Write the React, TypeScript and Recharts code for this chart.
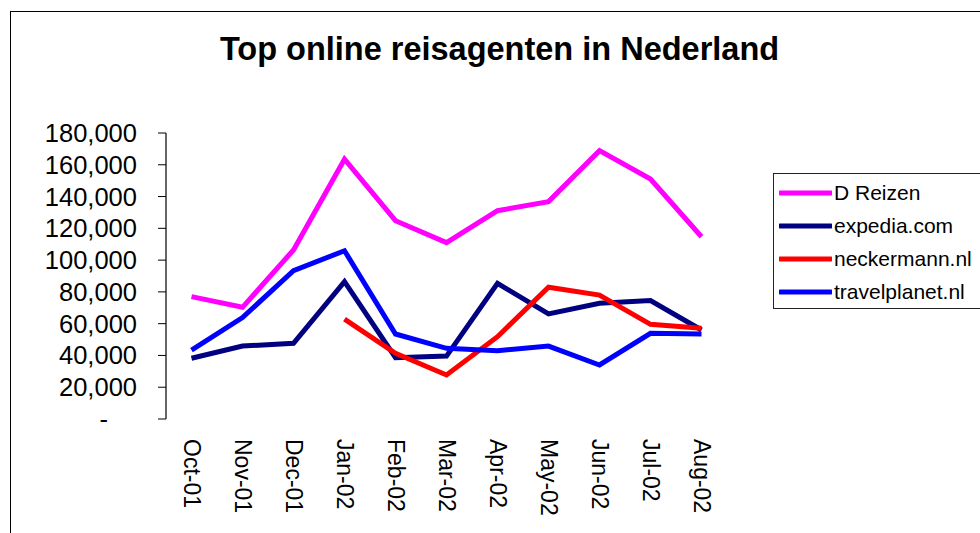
import React from 'react';
import { LineChart, Line, XAxis, YAxis, Legend } from 'recharts';

const months = ['Oct-01', 'Nov-01', 'Dec-01', 'Jan-02', 'Feb-02', 'Mar-02', 'Apr-02', 'May-02', 'Jun-02', 'Jul-02', 'Aug-02'];
const dReizen = [77000, 70300, 106400, 163500, 124800, 111000, 131100, 136800, 168900, 151000, 114700];
const expedia = [38200, 45900, 47600, 86400, 38600, 39600, 85400, 66100, 72800, 74500, 56000];
const neckermann: (number | null)[] = [null, null, null, 62900, 41300, 27700, 51800, 82900, 78000, 59600, 57100];
const travelplanet = [43400, 63800, 93400, 105900, 53500, 44500, 43000, 45900, 34000, 53900, 53500];
const yTicks = [0, 20000, 40000, 60000, 80000, 100000, 120000, 140000, 160000, 180000];

const seriesNames = ['D Reizen', 'expedia.com', 'neckermann.nl', 'travelplanet.nl'];
const seriesColors = ['#FF00FF', '#000080', '#FF0000', '#0000FF'];

const data = months.map((m, i) => ({
  i,
  month: m,
  d: dReizen[i],
  e: expedia[i],
  n: neckermann[i],
  t: travelplanet[i],
}));

const centerTicks = months.map((_, i) => i);
const edgeTicks = [...months.map((_, i) => i - 0.5), months.length - 0.5];

const FONT = '"Liberation Sans", Arial, sans-serif';

const MonthTick = (props: any) => {
  const { x, y, payload } = props;
  const label = months[payload.value];
  return (
    <text
      x={x}
      y={y}
      transform={`rotate(90 ${x} ${y})`}
      textAnchor="start"
      dominantBaseline="central"
      fontFamily={FONT}
      fontSize={23}
      fill="#000"
    >
      {label}
    </text>
  );
};

const ValueTick = (props: any) => {
  const { x, y, payload } = props;
  const v = payload.value as number;
  const label = v === 0 ? '-' : v.toLocaleString('en-US');
  return (
    <text
      x={v === 0 ? x - 29 : x}
      y={y}
      textAnchor="end"
      dominantBaseline="central"
      fontFamily={FONT}
      fontSize={25.5}
      fill="#000"
    >
      {label}
    </text>
  );
};

const LegendBox = (props: any) => {
  const payload = props.payload || [];
  return (
    <div
      style={{
        border: '1px solid #222',
        width: 240,
        height: 132,
        paddingTop: 2,
        paddingLeft: 5,
        boxSizing: 'content-box',
        background: '#fff',
      }}
    >
      {payload.map((p: any) => (
        <div key={p.value} style={{ height: 33, display: 'flex', alignItems: 'center' }}>
          <svg width={53} height={8} style={{ display: 'block' }}>
            <line x1={1} y1={4} x2={52} y2={4} stroke={p.color} strokeWidth={5} strokeLinecap="round" />
          </svg>
          <span style={{ fontFamily: FONT, fontSize: 21, color: '#000', marginLeft: 2, whiteSpace: 'nowrap' }}>
            {p.value}
          </span>
        </div>
      ))}
    </div>
  );
};

export default function App() {
  return (
    <div style={{ position: 'absolute', left: 0, top: 0, width: 980, height: 533, overflow: 'hidden', background: '#fff' }}>
      <div
        style={{
          position: 'absolute',
          left: 10,
          top: 11,
          width: 1000,
          height: 600,
          borderLeft: '1.5px solid #000',
          borderTop: '1.5px solid #000',
        }}
      />
      <div
        style={{
          position: 'absolute',
          left: 0,
          top: 33,
          width: 999,
          textAlign: 'center',
          fontFamily: FONT,
          fontWeight: 'bold',
          fontSize: 32.5,
          lineHeight: '32px',
          color: '#000',
          whiteSpace: 'nowrap',
        }}
      >
        Top online reisagenten in Nederland
      </div>
      <div style={{ position: 'absolute', left: 0, top: 0 }}>
        <LineChart width={980} height={533} data={data} margin={{ top: 133, right: 253, bottom: 14, left: 66 }}>
          <XAxis
            xAxisId="edges"
            type="number"
            dataKey="i"
            domain={[-0.5, months.length - 0.5]}
            ticks={edgeTicks}
            height={0}
            tickSize={7}
            tickLine={{ stroke: '#000', strokeWidth: 1 }}
            axisLine={{ stroke: '#000', strokeWidth: 1.2 }}
            tick={() => <g />}
            interval={0}
            allowDataOverflow
          />
          <XAxis
            xAxisId="x"
            type="number"
            dataKey="i"
            domain={[-0.5, months.length - 0.5]}
            ticks={centerTicks}
            height={100}
            tickSize={0}
            tickMargin={20}
            tickLine={false}
            axisLine={false}
            tick={<MonthTick />}
            interval={0}
            allowDataOverflow
          />
          <YAxis
            type="number"
            domain={[0, 180000]}
            ticks={yTicks}
            width={100}
            tickSize={8}
            tickMargin={21}
            tickLine={{ stroke: '#000', strokeWidth: 1 }}
            axisLine={{ stroke: '#000', strokeWidth: 1.2 }}
            tick={<ValueTick />}
            interval={0}
          />
          <Legend
            layout="vertical"
            align="center"
            verticalAlign="middle"
            content={<LegendBox />}
            wrapperStyle={{ position: 'absolute', left: 773, top: 173, width: 250, height: 140 }}
          />
          <Line xAxisId="x" type="linear" dataKey="d" name={seriesNames[0]} stroke={seriesColors[0]} strokeWidth={5} dot={false} isAnimationActive={false} />
          <Line xAxisId="x" type="linear" dataKey="e" name={seriesNames[1]} stroke={seriesColors[1]} strokeWidth={5} dot={false} isAnimationActive={false} />
          <Line xAxisId="x" type="linear" dataKey="n" name={seriesNames[2]} stroke={seriesColors[2]} strokeWidth={5} dot={false} isAnimationActive={false} />
          <Line xAxisId="x" type="linear" dataKey="t" name={seriesNames[3]} stroke={seriesColors[3]} strokeWidth={5} dot={false} isAnimationActive={false} />
        </LineChart>
      </div>
    </div>
  );
}
